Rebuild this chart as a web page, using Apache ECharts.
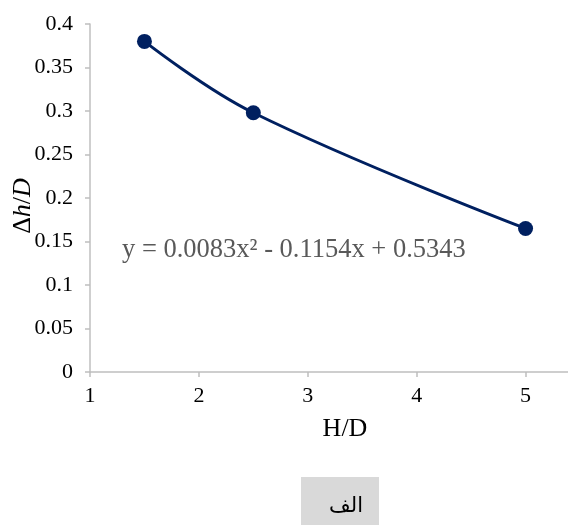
<!DOCTYPE html>
<html>
<head>
<meta charset="utf-8">
<script src="https://cdn.jsdelivr.net/npm/echarts@6/dist/echarts.min.js"></script>
<style>
  html, body { margin: 0; padding: 0; background: #fff; }
  #main { width: 568px; height: 525px; }
</style>
</head>
<body>
<div id="main"></div>
<script>
// H/D values and measured dh/D
var hdValues = [1.5, 2.5, 5];
var dhValues = [0.38, 0.298, 0.165];
var trendText = 'y = 0.0083x\u00B2 - 0.1154x + 0.5343';
var captionText = '\u0627\u0644\u0641';

var serif = '"Liberation Serif", "DejaVu Serif", serif';
var navy = '#002060';
var axisGray = '#bfbfbf';

var chartDom = document.getElementById('main');
var myChart = echarts.init(chartDom);

var points = hdValues.map(function (x, i) { return [x, dhValues[i]]; });

var option = {
  animation: false,
  grid: { left: 90, right: -12, top: 24, bottom: 153, outerBoundsMode: 'none', containLabel: false },
  xAxis: {
    type: 'value',
    min: 1,
    max: 5.5,
    interval: 1,
    name: 'H/D',
    nameLocation: 'middle',
    nameGap: 44,
    nameTextStyle: { fontFamily: serif, fontSize: 26, color: '#000', padding: [0, 0, 0, 20] },
    axisLine: { lineStyle: { color: axisGray, width: 1.5 } },
    axisTick: { show: true, length: 5, lineStyle: { color: axisGray, width: 1.5 } },
    axisLabel: { fontFamily: serif, fontSize: 22, color: '#000', margin: 13, showMaxLabel: false },
    splitLine: { show: false }
  },
  yAxis: {
    type: 'value',
    min: 0,
    max: 0.4,
    interval: 0.05,
    axisLine: { show: true, lineStyle: { color: axisGray, width: 1.5 } },
    axisTick: { show: true, length: 5, lineStyle: { color: axisGray, width: 1.5 } },
    axisLabel: { fontFamily: serif, fontSize: 22, color: '#000', margin: 17 },
    splitLine: { show: false }
  },
  series: [
    {
      type: 'line',
      data: points,
      smooth: 0.4,
      symbol: 'circle',
      symbolSize: 15,
      itemStyle: { color: navy },
      lineStyle: { color: navy, width: 3 }
    }
  ],
  graphic: [
    {
      type: 'text',
      x: 23,
      y: 206,
      rotation: Math.PI / 2,
      style: {
        text: '{d|\u0394}{i|h}{d|/}{i|D}',
        align: 'center',
        verticalAlign: 'middle',
        rich: {
          d: { fontFamily: serif, fontSize: 26, fill: '#000' },
          i: { fontFamily: serif, fontSize: 26, fontStyle: 'italic', fill: '#000' }
        }
      }
    },
    {
      type: 'text',
      left: 122,
      top: 237,
      style: { text: trendText, fill: '#595959', font: '26.5px ' + serif }
    },
    {
      type: 'group',
      left: 301,
      top: 477,
      children: [
        { type: 'rect', shape: { x: 0, y: 0, width: 78, height: 48 }, style: { fill: '#d9d9d9' } },
        {
          type: 'text',
          x: 45, y: 30,
          style: { text: captionText, fill: '#000', font: '21px "DejaVu Sans", sans-serif', align: 'center', verticalAlign: 'middle' }
        }
      ]
    }
  ]
};

myChart.setOption(option);
</script>
</body>
</html>
